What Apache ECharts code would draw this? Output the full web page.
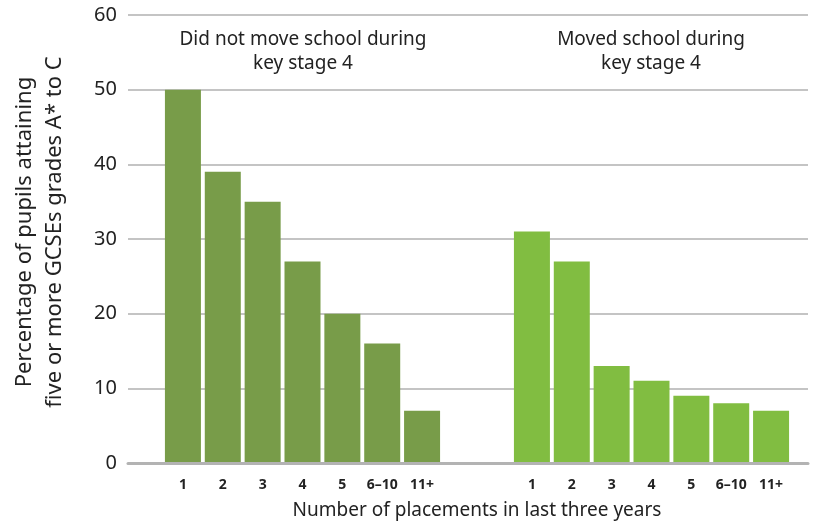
<!DOCTYPE html>
<html>
<head>
<meta charset="utf-8">
<script src="https://cdn.jsdelivr.net/npm/echarts@6/dist/echarts.min.js"></script>
<style>
  html, body { margin: 0; padding: 0; background: #fff; }
  #chart { width: 817px; height: 526px; }
</style>
</head>
<body>
<div id="chart"></div>
<script>
var placements = ['1', '2', '3', '4', '5', '6–10', '11+'];
var stayedValues = [50, 39, 35, 27, 20, 16, 7];
var movedValues = [31, 27, 13, 11, 9, 8, 7];
var yTicks = { min: 0, max: 60, interval: 10 };

var FONT = 'Noto Sans';
var dom = document.getElementById('chart');
var myChart = echarts.init(dom);

var groupAxis = function (gridIndex) {
    return {
        type: 'category',
        gridIndex: gridIndex,
        data: placements,
        axisLine: { show: false },
        axisTick: { show: false },
        axisLabel: {
            interval: 0,
            color: '#222',
            fontFamily: FONT,
            fontWeight: 'bold',
            fontSize: 14,
            margin: 15
        }
    };
};
var hiddenY = function (gridIndex) {
    return {
        type: 'value', gridIndex: gridIndex,
        min: yTicks.min, max: yTicks.max, interval: yTicks.interval,
        show: false
    };
};

var option = {
    animation: false,
    grid: [
        { left: 128, right: 9, top: 15, bottom: 63 },   // background: gridlines + baseline
        { left: 163, width: 279, top: 15, bottom: 63 }, // did not move school
        { left: 512, width: 279, top: 15, bottom: 63 }  // moved school
    ],
    xAxis: [
        {
            type: 'category', gridIndex: 0, data: [''], z: 5,
            axisLine: { lineStyle: { color: '#b3b3b3', width: 3 } },
            axisTick: { show: false },
            axisLabel: { show: false }
        },
        groupAxis(1),
        groupAxis(2)
    ],
    yAxis: [
        {
            type: 'value', gridIndex: 0,
            min: yTicks.min, max: yTicks.max, interval: yTicks.interval,
            axisLine: { show: false },
            axisTick: { show: false },
            axisLabel: { color: '#222', fontFamily: FONT, fontSize: 20, margin: 11 },
            splitLine: { lineStyle: { color: '#c4c4c4', width: 2 } }
        },
        hiddenY(1),
        hiddenY(2)
    ],
    graphic: [
        {
            type: 'text', x: 40, y: 232, rotation: Math.PI / 2,
            style: {
                text: 'Percentage of pupils attaining\nfive or more GCSEs grades A* to C',
                fill: '#222', font: '22px "' + FONT + '"',
                align: 'center', verticalAlign: 'middle', lineHeight: 30
            }
        },
        {
            type: 'text', x: 477, y: 511,
            style: {
                text: 'Number of placements in last three years',
                fill: '#222', font: '19px "' + FONT + '"',
                align: 'center', verticalAlign: 'middle'
            }
        },
        {
            type: 'text', x: 303, y: 52,
            style: {
                text: 'Did not move school during\nkey stage 4',
                fill: '#222', font: '19px "' + FONT + '"',
                align: 'center', verticalAlign: 'middle', lineHeight: 24
            }
        },
        {
            type: 'text', x: 651, y: 52,
            style: {
                text: 'Moved school during\nkey stage 4',
                fill: '#222', font: '19px "' + FONT + '"',
                align: 'center', verticalAlign: 'middle', lineHeight: 24
            }
        }
    ],
    series: [
        {
            name: 'Did not move school during key stage 4',
            type: 'bar', xAxisIndex: 1, yAxisIndex: 1,
            barWidth: 36,
            itemStyle: { color: '#789c49' },
            data: stayedValues
        },
        {
            name: 'Moved school during key stage 4',
            type: 'bar', xAxisIndex: 2, yAxisIndex: 2,
            barWidth: 36,
            itemStyle: { color: '#81bd41' },
            data: movedValues
        }
    ]
};

myChart.setOption(option);
</script>
</body>
</html>
